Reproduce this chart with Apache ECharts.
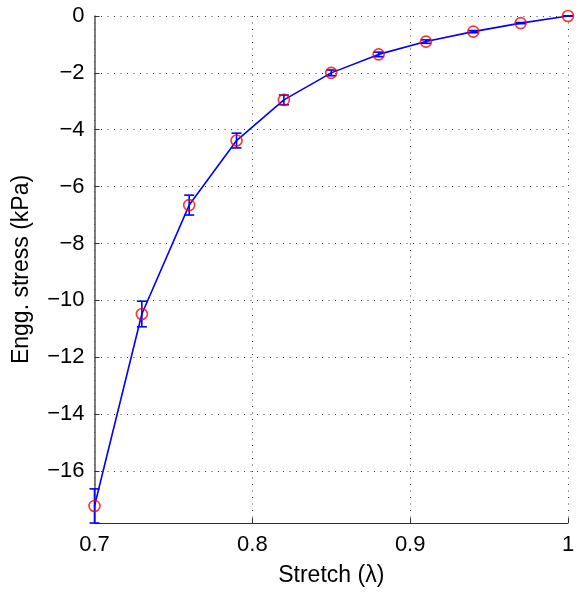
<!DOCTYPE html>
<html>
<head>
<meta charset="utf-8">
<script src="https://cdn.jsdelivr.net/npm/echarts@6/dist/echarts.min.js"></script>
<style>
  html, body { margin: 0; padding: 0; background: #fff; }
  #chart { width: 581px; height: 592px; }
</style>
</head>
<body>
<div id="chart"></div>
<script>
// Stretch values and mean engineering stress (kPa) with error half-widths
const stretch = [0.70, 0.73, 0.76, 0.79, 0.82, 0.85, 0.88, 0.91, 0.94, 0.97, 1.00];
const stress  = [-17.23, -10.48, -6.65, -4.38, -2.95, -2.00, -1.35, -0.90, -0.55, -0.25, 0.00];
const errHalf = [0.60, 0.45, 0.35, 0.26, 0.17, 0.10, 0.08, 0.06, 0.04, 0.02, 0.00];

const xTicks = [0.7, 0.8, 0.9, 1.0];
const yTicks = [0, -2, -4, -6, -8, -10, -12, -14, -16];

const FONT = 'Liberation Sans, Arial, Helvetica, sans-serif';

const points = stretch.map((x, i) => [x, stress[i]]);
const bars = stretch.map((x, i) => [x, stress[i] - errHalf[i], stress[i] + errHalf[i]]);
const yMin = Math.min(...bars.map(b => b[1]));

const chart = echarts.init(document.getElementById('chart'), null, { renderer: 'canvas' });

const gridDots = { color: '#3a3a3a', width: 1, type: [1, 5.5] };

chart.setOption({
  animation: false,
  backgroundColor: '#ffffff',
  grid: { left: 94.5, right: 13, top: 16, bottom: 68, containLabel: false },
  xAxis: {
    type: 'value',
    min: 0.7,
    max: 1.0,
    name: 'Stretch (λ)',
    nameLocation: 'middle',
    nameGap: 41,
    nameTextStyle: { fontFamily: FONT, fontSize: 23, color: '#000' },
    axisLine: { show: true, onZero: false, lineStyle: { color: '#333', width: 1 } },
    axisTick: { show: true, inside: true, length: 5, customValues: xTicks, lineStyle: { color: '#333' } },
    axisLabel: {
      customValues: xTicks,
      fontFamily: FONT, fontSize: 22, color: '#000', margin: 11,
      formatter: v => String(+v.toFixed(1))
    },
    splitLine: { show: true, lineStyle: gridDots }
  },
  yAxis: {
    type: 'value',
    min: yMin,
    max: 0,
    name: 'Engg. stress (kPa)',
    nameLocation: 'middle',
    nameGap: 61,
    nameTextStyle: { fontFamily: FONT, fontSize: 23, color: '#000' },
    axisLine: { show: true, onZero: false, lineStyle: { color: '#555', width: 1.5 } },
    axisTick: { show: true, inside: true, length: 5, customValues: yTicks, lineStyle: { color: '#333' } },
    axisLabel: {
      customValues: yTicks,
      fontFamily: FONT, fontSize: 22, color: '#000', margin: 10,
      formatter: v => (v < 0 ? '\u2212' + Math.abs(v) : String(v))
    },
    splitLine: { show: true, lineStyle: gridDots }
  },
  series: [
    {
      type: 'custom',
      name: 'error',
      data: bars,
      z: 3,
      renderItem: function (params, api) {
        const x = api.value(0);
        const lo = api.coord([x, api.value(1)]);
        const hi = api.coord([x, api.value(2)]);
        const hw = 5;
        const style = { stroke: '#0000ff', lineWidth: 1.6 };
        return {
          type: 'group',
          children: [
            { type: 'line', shape: { x1: lo[0], y1: lo[1], x2: hi[0], y2: hi[1] }, style },
            { type: 'line', shape: { x1: lo[0] - hw, y1: lo[1], x2: lo[0] + hw, y2: lo[1] }, style },
            { type: 'line', shape: { x1: hi[0] - hw, y1: hi[1], x2: hi[0] + hw, y2: hi[1] }, style }
          ]
        };
      }
    },
    {
      type: 'line',
      name: 'mean',
      data: points,
      showSymbol: false,
      z: 4,
      lineStyle: { color: '#0000ff', width: 1.6 }
    },
    {
      type: 'scatter',
      name: 'markers',
      data: points,
      symbol: 'circle',
      symbolSize: 11,
      z: 5,
      itemStyle: { color: 'rgba(0,0,0,0)', borderColor: '#ff0000', borderWidth: 1.6 }
    }
  ]
});
</script>
</body>
</html>
